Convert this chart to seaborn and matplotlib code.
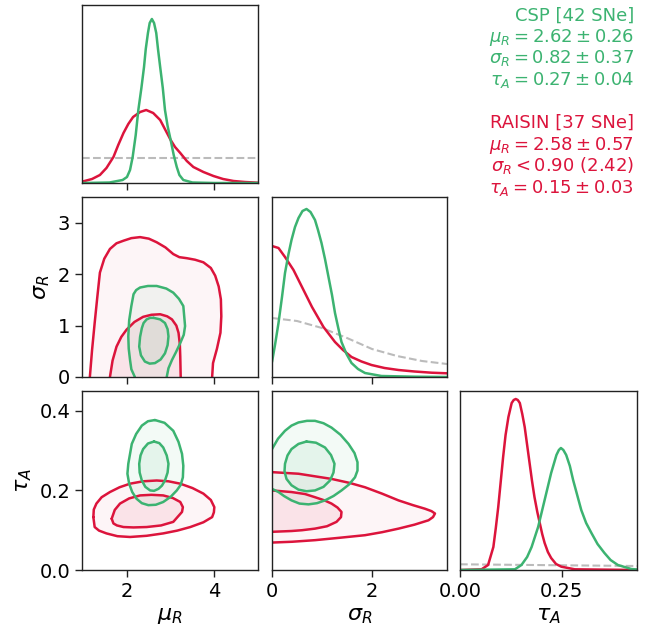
import matplotlib
matplotlib.use("Agg")
import matplotlib.pyplot as plt
import seaborn as sns

# ---------- data ----------
CSP_COLOR = "#3cb371"
RAISIN_COLOR = "#dc143c"
PRIOR_COLOR = "#bbbbbb"

mu_lim = (0.97, 5.0)
sig_lim = (0.0, 3.5)
tau_lim_y = (0.0, 0.45)
tau_lim_x = (0.0, 0.435)

# 1D marginals (arbitrary density units)
mu_csp_x = [1.0, 1.6, 1.9, 2.0, 2.07, 2.13, 2.2, 2.26, 2.33, 2.39, 2.43, 2.48, 2.52, 2.57, 2.62, 2.67, 2.71,
            2.76, 2.82, 2.87, 2.93, 3.0, 3.07, 3.14, 3.2, 3.29, 3.5, 4.0, 5.0]
mu_csp_y = [0, 0.5, 3, 6, 13, 26, 48, 73, 95, 116, 134, 150, 160, 164, 160, 150, 134,
            116, 95, 73, 57, 43, 28, 16, 8, 3, 0.5, 0, 0]
mu_raisin_x = [0.97, 1.2, 1.38, 1.53, 1.69, 1.8, 1.92, 2.03, 2.14, 2.3, 2.44, 2.6, 2.76, 2.88, 3.0, 3.1, 3.22,
               3.37, 3.52, 3.75, 3.98, 4.2, 4.44, 4.7, 5.0]
mu_raisin_y = [1.3, 4, 8, 15, 26, 38, 50, 59, 66, 71, 73, 70, 63, 53, 43, 36, 30,
               22, 16, 11, 7, 4, 2, 1, 0.3]
mu_prior_x = [0.97, 5.0]
mu_prior_y = [25, 25]

sig_csp_x = [0, 0.06, 0.13, 0.2, 0.26, 0.33, 0.39, 0.46, 0.53, 0.61, 0.69, 0.77, 0.86, 0.92, 0.99, 1.06, 1.13,
             1.2, 1.26, 1.33, 1.39, 1.49, 1.59, 1.72, 1.86, 2.19, 2.86, 3.5]
sig_csp_y = [15, 32, 54, 80, 104, 123, 137, 150, 159, 166, 168, 165, 157, 147, 134, 118, 100,
             82, 64, 48, 35, 23, 14, 8, 4, 1, 0.3, 0]
sig_raisin_x = [0, 0.13, 0.26, 0.43, 0.6, 0.8, 1.03, 1.26, 1.42, 1.59, 1.79, 1.99, 2.25, 2.53, 2.85, 3.19, 3.5]
sig_raisin_y = [131, 129, 120, 107, 90, 70, 50, 35, 27, 20, 15.5, 12, 9, 7, 5.5, 4.3, 3.7]
sig_prior_x = [0, 0.5, 1.0, 1.5, 2.0, 2.5, 3.0, 3.5]
sig_prior_y = [59, 56, 49, 39, 28, 21, 16, 13]

tau_csp_x = [0.0, 0.135, 0.151, 0.165, 0.176, 0.192, 0.208, 0.224, 0.237, 0.243, 0.248, 0.254, 0.261, 0.27,
             0.278, 0.288, 0.298, 0.31, 0.323, 0.338, 0.355, 0.37, 0.388, 0.421, 0.435]
tau_csp_y = [0, 0.7, 5, 13, 23, 43, 70, 97, 115, 120, 122, 120, 115, 104,
             90, 75, 60, 47, 37, 26, 17, 10, 5, 1, 0.5]
tau_raisin_x = [0.0, 0.053, 0.069, 0.082, 0.088, 0.094, 0.1, 0.106, 0.112, 0.119, 0.127, 0.132, 0.137, 0.142,
                0.147, 0.153, 0.159, 0.165, 0.171, 0.177, 0.183, 0.19, 0.196, 0.202, 0.208, 0.216, 0.224,
                0.236, 0.249, 0.282, 0.435]
tau_raisin_y = [0, 0.7, 5, 23, 42, 63, 88, 113, 135, 153, 167, 170, 171, 170,
                167, 156, 143, 125, 107, 89, 73, 58, 47, 36, 27, 18, 12,
                6, 3.3, 0.7, 0]
tau_prior_x = [0.0, 0.435]
tau_prior_y = [5.7, 4.0]

# 2D credible contours: (mu_R, sigma_R)
ms_raisin_outer_mu = [1.15, 1.2, 1.26, 1.32, 1.38, 1.48, 1.61, 1.76, 1.92, 2.10, 2.30, 2.50, 2.68, 2.88, 3.06,
                      3.20, 3.37, 3.56, 3.75, 3.92, 4.02, 4.10, 4.15, 4.16, 4.14, 4.06, 3.97, 3.95]
ms_raisin_outer_sig = [0, 0.52, 1.05, 1.55, 2.03, 2.30, 2.49, 2.60, 2.65, 2.70, 2.72, 2.69, 2.62, 2.52, 2.39,
                       2.33, 2.31, 2.28, 2.23, 2.12, 1.97, 1.76, 1.51, 1.18, 0.86, 0.55, 0.27, 0]
ms_raisin_inner_mu = [1.61, 1.67, 1.76, 1.87, 1.99, 2.17, 2.37, 2.56, 2.76, 2.92, 3.03, 3.13, 3.18, 3.21, 3.22, 3.23]
ms_raisin_inner_sig = [0, 0.32, 0.59, 0.78, 0.92, 1.07, 1.17, 1.21, 1.22, 1.18, 1.12, 1.00, 0.86, 0.64, 0.40, 0]
ms_csp_outer_mu = [2.18, 2.10, 2.07, 2.04, 2.03, 2.05, 2.10, 2.15, 2.21, 2.30, 2.48, 2.68, 2.90, 3.06, 3.19,
                   3.29, 3.33, 3.30, 3.22, 3.12, 3.03, 2.95, 2.91]
ms_csp_outer_sig = [0, 0.15, 0.33, 0.55, 0.79, 1.10, 1.38, 1.61, 1.69, 1.74, 1.77, 1.77, 1.72, 1.64, 1.52,
                    1.38, 0.99, 0.82, 0.66, 0.48, 0.33, 0.17, 0]
ms_csp_inner_mu = [2.61, 2.76, 2.87, 2.93, 2.95, 2.93, 2.87, 2.77, 2.64, 2.52, 2.41, 2.32, 2.28, 2.30, 2.34,
                   2.38, 2.45, 2.53, 2.61]
ms_csp_inner_sig = [1.15, 1.12, 1.05, 0.93, 0.79, 0.62, 0.46, 0.34, 0.27, 0.26, 0.30, 0.42, 0.59, 0.78, 0.95,
                    1.05, 1.12, 1.15, 1.15]

# (mu_R, tau_A)
mt_csp_outer_mu = [2.64, 2.86, 3.06, 3.18, 3.26, 3.29, 3.28, 3.23, 3.14, 3.00, 2.83, 2.66, 2.49, 2.34, 2.22,
                   2.12, 2.05, 2.01, 2.03, 2.11, 2.21, 2.34, 2.48, 2.64]
mt_csp_outer_tau = [0.377, 0.370, 0.350, 0.322, 0.292, 0.262, 0.233, 0.214, 0.200, 0.184, 0.171, 0.164, 0.163,
                    0.168, 0.179, 0.196, 0.217, 0.242, 0.267, 0.317, 0.342, 0.363, 0.374, 0.377]
mt_csp_inner_mu = [2.62, 2.74, 2.83, 2.91, 2.95, 2.93, 2.87, 2.80, 2.72, 2.62, 2.53, 2.42, 2.34, 2.29, 2.28,
                   2.31, 2.37, 2.48, 2.62]
mt_csp_inner_tau = [0.323, 0.319, 0.308, 0.288, 0.267, 0.245, 0.225, 0.212, 0.204, 0.199, 0.200, 0.209, 0.225,
                    0.245, 0.267, 0.288, 0.304, 0.318, 0.323]
mt_raisin_outer_mu = [1.23, 1.24, 1.30, 1.42, 1.61, 1.83, 2.07, 2.37, 2.68, 2.95, 3.22, 3.50, 3.75, 3.92, 4.00,
                      3.99, 3.95, 3.75, 3.45, 3.15, 2.83, 2.45, 2.07, 1.78, 1.53, 1.36, 1.26, 1.23]
mt_raisin_outer_tau = [0.133, 0.152, 0.167, 0.183, 0.196, 0.208, 0.217, 0.223, 0.225, 0.223, 0.217, 0.206,
                       0.192, 0.176, 0.158, 0.145, 0.133, 0.120, 0.108, 0.099, 0.092, 0.086, 0.083, 0.085,
                       0.092, 0.099, 0.108, 0.133]
mt_raisin_inner_mu = [1.65, 1.72, 1.84, 2.05, 2.30, 2.56, 2.83, 3.05, 3.22, 3.28, 3.26, 3.06, 2.78, 2.45, 2.15,
                      1.92, 1.77, 1.69, 1.65]
mt_raisin_inner_tau = [0.129, 0.151, 0.167, 0.180, 0.1875, 0.189, 0.1875, 0.181, 0.171, 0.158, 0.146, 0.121,
                       0.112, 0.108, 0.107, 0.108, 0.112, 0.117, 0.129]

# (sigma_R, tau_A)
st_csp_outer_sig = [0, 0.12, 0.26, 0.39, 0.53, 0.70, 0.86, 1.03, 1.19, 1.37, 1.53, 1.65, 1.71, 1.71, 1.66,
                    1.54, 1.39, 1.23, 1.06, 0.90, 0.73, 0.55, 0.39, 0.24, 0.13, 0]
st_csp_outer_tau = [0.304, 0.330, 0.350, 0.363, 0.371, 0.375, 0.375, 0.369, 0.358, 0.340, 0.317, 0.294,
                    0.271, 0.250, 0.233, 0.215, 0.200, 0.186, 0.175, 0.168, 0.165, 0.167, 0.175, 0.186,
                    0.196, 0.204]
st_csp_inner_sig = [0.69, 0.88, 1.06, 1.18, 1.25, 1.23, 1.16, 1.03, 0.86, 0.69, 0.53, 0.39, 0.29, 0.25, 0.26,
                    0.31, 0.39, 0.53, 0.69]
st_csp_inner_tau = [0.323, 0.320, 0.308, 0.289, 0.267, 0.245, 0.225, 0.209, 0.200, 0.198, 0.202, 0.213,
                    0.229, 0.248, 0.267, 0.288, 0.304, 0.317, 0.323]
st_raisin_outer_sig = [0, 0.53, 1.19, 1.55, 1.86, 2.20, 2.53, 2.82, 3.06, 3.19, 3.26, 3.22, 3.13, 2.85, 2.53,
                       2.20, 1.86, 1.35, 0.86, 0.40, 0]
st_raisin_outer_tau = [0.246, 0.242, 0.229, 0.219, 0.208, 0.192, 0.175, 0.163, 0.154, 0.148, 0.142, 0.133,
                       0.125, 0.114, 0.104, 0.095, 0.0875, 0.081, 0.075, 0.071, 0.069]
st_raisin_inner_sig = [0, 0.39, 0.66, 0.86, 1.05, 1.19, 1.31, 1.39, 1.38, 1.29, 1.10, 0.86, 0.60, 0.39, 0]
st_raisin_inner_tau = [0.2, 0.196, 0.191, 0.183, 0.175, 0.167, 0.157, 0.146, 0.133, 0.121, 0.110, 0.104,
                       0.100, 0.098, 0.096]

csp_lines = ["CSP [42 SNe]",
             r"$\mu_R = 2.62 \pm 0.26$",
             r"$\sigma_R = 0.82 \pm 0.37$",
             r"$\tau_A = 0.27 \pm 0.04$"]
raisin_lines = ["RAISIN [37 SNe]",
                r"$\mu_R = 2.58 \pm 0.57$",
                r"$\sigma_R < 0.90$ (2.42)",
                r"$\tau_A = 0.15 \pm 0.03$"]

# ---------- figure ----------
sns.set_style("ticks")
plt.rcParams["font.family"] = ["DejaVu Sans"]
plt.rcParams["axes.edgecolor"] = "#222222"
plt.rcParams["xtick.color"] = "#222222"
plt.rcParams["ytick.color"] = "#222222"
plt.rcParams["xtick.labelcolor"] = "black"
plt.rcParams["ytick.labelcolor"] = "black"
plt.rcParams["axes.labelcolor"] = "black"
plt.rcParams["xtick.labelsize"] = 14
plt.rcParams["ytick.labelsize"] = 14

W, H = 651, 632
fig = plt.figure(figsize=(W / 100, H / 100), dpi=100)

cols = [(82, 258), (272, 447), (460, 637)]
rows = [(5, 183), (197, 377), (391, 570)]


def make_ax(r, c):
    x0, x1 = cols[c]
    y0, y1 = rows[r]
    return fig.add_axes([x0 / W, 1 - y1 / H, (x1 - x0) / W, (y1 - y0) / H])


def line(ax, x, y, color, lw=1.8, ls="-"):
    sns.lineplot(x=x, y=y, ax=ax, color=color, lw=lw, linestyle=ls,
                 sort=False, estimator=None, legend=False)


def contour(ax, x, y, color, alpha):
    ax.fill(x, y, color=color, alpha=alpha, lw=0)
    line(ax, x, y, color)


# marginals
ax_mu = make_ax(0, 0)
line(ax_mu, mu_prior_x, mu_prior_y, PRIOR_COLOR, lw=1.5, ls="--")
line(ax_mu, mu_raisin_x, mu_raisin_y, RAISIN_COLOR)
line(ax_mu, mu_csp_x, mu_csp_y, CSP_COLOR)
ax_mu.set_xlim(mu_lim)
ax_mu.set_ylim(0, 178)
ax_mu.set_xticks([2, 4])
ax_mu.set_xticklabels([])
ax_mu.set_yticks([])

ax_sig = make_ax(1, 1)
line(ax_sig, sig_prior_x, sig_prior_y, PRIOR_COLOR, lw=1.5, ls="--")
line(ax_sig, sig_raisin_x, sig_raisin_y, RAISIN_COLOR)
line(ax_sig, sig_csp_x, sig_csp_y, CSP_COLOR)
ax_sig.set_xlim(sig_lim)
ax_sig.set_ylim(0, 180)
ax_sig.set_xticks([0, 2])
ax_sig.set_xticklabels([])
ax_sig.set_yticks([])

ax_tau = make_ax(2, 2)
line(ax_tau, tau_prior_x, tau_prior_y, PRIOR_COLOR, lw=1.5, ls="--")
line(ax_tau, tau_raisin_x, tau_raisin_y, RAISIN_COLOR)
line(ax_tau, tau_csp_x, tau_csp_y, CSP_COLOR)
ax_tau.set_xlim(tau_lim_x)
ax_tau.set_ylim(0, 179)
ax_tau.set_xticks([0.0, 0.25])
ax_tau.set_xticklabels(["0.00", "0.25"])
ax_tau.set_yticks([])
ax_tau.set_xlabel(r"$\tau_A$", fontsize=16)

# mu vs sigma
ax_ms = make_ax(1, 0)
contour(ax_ms, ms_raisin_outer_mu, ms_raisin_outer_sig, RAISIN_COLOR, 0.04)
contour(ax_ms, ms_raisin_inner_mu, ms_raisin_inner_sig, RAISIN_COLOR, 0.08)
contour(ax_ms, ms_csp_outer_mu, ms_csp_outer_sig, CSP_COLOR, 0.06)
contour(ax_ms, ms_csp_inner_mu, ms_csp_inner_sig, CSP_COLOR, 0.08)
ax_ms.set_xlim(mu_lim)
ax_ms.set_ylim(sig_lim)
ax_ms.set_xticks([2, 4])
ax_ms.set_xticklabels([])
ax_ms.set_yticks([0, 1, 2, 3])
ax_ms.set_ylabel(r"$\sigma_R$", fontsize=16)

# mu vs tau
ax_mt = make_ax(2, 0)
contour(ax_mt, mt_raisin_outer_mu, mt_raisin_outer_tau, RAISIN_COLOR, 0.04)
contour(ax_mt, mt_raisin_inner_mu, mt_raisin_inner_tau, RAISIN_COLOR, 0.08)
contour(ax_mt, mt_csp_outer_mu, mt_csp_outer_tau, CSP_COLOR, 0.06)
contour(ax_mt, mt_csp_inner_mu, mt_csp_inner_tau, CSP_COLOR, 0.08)
ax_mt.set_xlim(mu_lim)
ax_mt.set_ylim(tau_lim_y)
ax_mt.set_xticks([2, 4])
ax_mt.set_yticks([0.0, 0.2, 0.4])
ax_mt.set_xlabel(r"$\mu_R$", fontsize=16)
ax_mt.set_ylabel(r"$\tau_A$", fontsize=16)

# sigma vs tau
ax_st = make_ax(2, 1)
contour(ax_st, st_raisin_outer_sig, st_raisin_outer_tau, RAISIN_COLOR, 0.04)
contour(ax_st, st_raisin_inner_sig, st_raisin_inner_tau, RAISIN_COLOR, 0.08)
contour(ax_st, st_csp_outer_sig, st_csp_outer_tau, CSP_COLOR, 0.06)
contour(ax_st, st_csp_inner_sig, st_csp_inner_tau, CSP_COLOR, 0.08)
ax_st.set_xlim(sig_lim)
ax_st.set_ylim(tau_lim_y)
ax_st.set_xticks([0, 2])
ax_st.set_yticks([])
ax_st.set_xlabel(r"$\sigma_R$", fontsize=16)

for ax in fig.axes:
    for s in ax.spines.values():
        s.set_visible(True)
        s.set_linewidth(1.0)
    ax.tick_params(length=5, width=1.0)
    ax.set_facecolor("white")

# summary text, one line at a time (baselines every 21.5 px)
for i, txt in enumerate(csp_lines):
    fig.text(634 / W, 1 - (20.5 + 21.5 * i) / H, txt, color=CSP_COLOR, fontsize=13,
             ha="right", va="baseline")
for i, txt in enumerate(raisin_lines):
    fig.text(634 / W, 1 - (128 + 21.5 * i) / H, txt, color=RAISIN_COLOR, fontsize=13,
             ha="right", va="baseline")

fig.savefig("out.png", dpi=100, facecolor="white")
